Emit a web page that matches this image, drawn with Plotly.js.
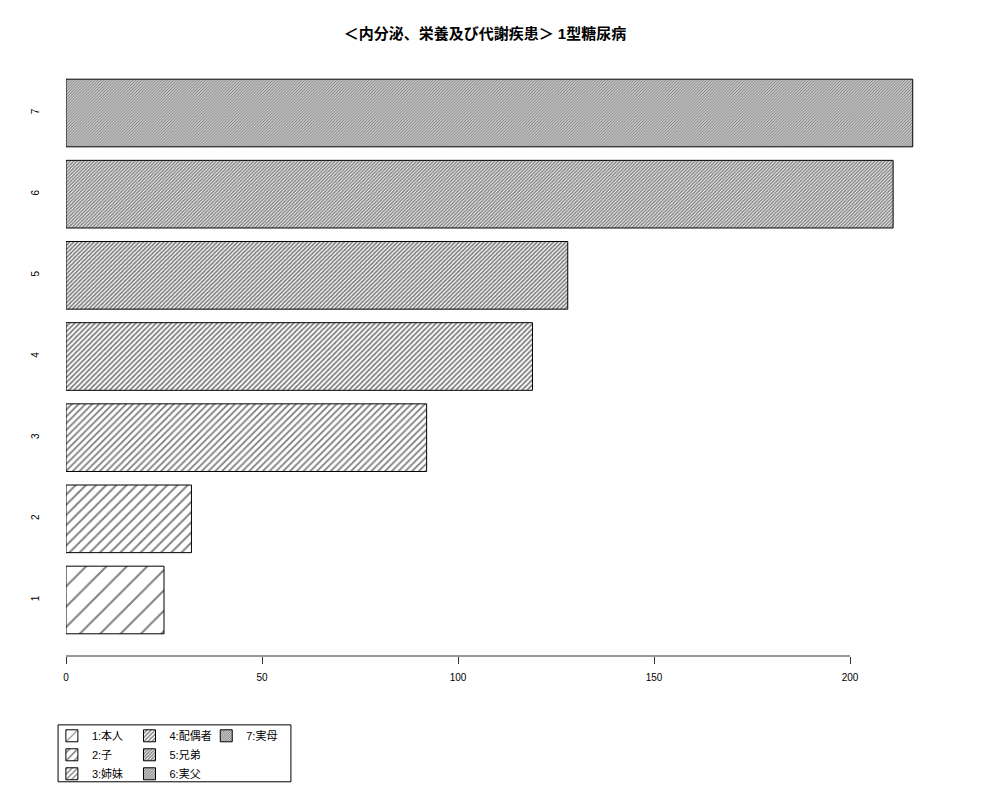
<!DOCTYPE html>
<html>
<head>
<meta charset="utf-8">
<script src="https://cdn.plot.ly/plotly-3.0.1.min.js"></script>
<style>
  body { margin: 0; background: #fff; }
  #chart { width: 1000px; height: 800px; }
</style>
</head>
<body>
<div id="chart"></div>
<script>
// data
let categories = ["1", "2", "3", "4", "5", "6", "7"];
let values = [25, 32, 92, 119, 128, 211, 216];
let legend_names = ["1:本人", "2:子", "3:姉妹", "4:配偶者", "5:兄弟", "6:実父", "7:実母"];
let x_ticks = [0, 50, 100, 150, 200];
let title_text = "＜内分泌、栄養及び代謝疾患＞ 1型糖尿病";

// hatch spacing gets tighter for each bar (R density 5, 10, ... 35)
let hatch_size = [14.4, 7.2, 4.8, 3.6, 2.9, 2.4, 2.06];
// which legend column each bar goes into
let legend_column = ["legend", "legend", "legend", "legend2", "legend2", "legend2", "legend3"];

const font_family = '"Liberation Sans", Arial, "Noto Sans CJK JP", sans-serif';

let traces = [];
for (let i = 0; i < categories.length; i++) {
    let s = hatch_size[i];
    traces.push({
        type: 'bar',
        orientation: 'h',
        x: [values[i]],
        y: [categories[i]],
        name: legend_names[i],
        legend: legend_column[i],
        marker: {
            color: 'white',
            line: {color: 'black', width: 1},
            pattern: {
                shape: '/',
                size: s,
                // about 1px wide hatch lines
                solidity: Math.min(0.6, 1 - Math.pow(1 - 1.0 / s, 2)),
                fgcolor: 'black',
                bgcolor: 'white',
                fillmode: 'overlay'
            }
        },
        hoverinfo: 'x+y'
    });
}

let legend_common = {
    orientation: 'v',
    yanchor: 'top',
    xanchor: 'left',
    y: -0.109,
    bgcolor: 'rgba(0,0,0,0)',
    borderwidth: 0,
    font: {family: font_family, size: 11, color: 'black'},
    traceorder: 'normal',
    itemwidth: 30
};

let layout = {
    width: 1000,
    height: 800,
    paper_bgcolor: 'white',
    plot_bgcolor: 'white',
    margin: {l: 66, r: 52, t: 57, b: 144},
    barmode: 'overlay',
    bargap: 0.1667,
    showlegend: true,
    title: {
        text: '<b>' + title_text + '</b>',
        x: 0.475,
        xanchor: 'center',
        xref: 'paper',
        y: 0.964,
        yref: 'container',
        font: {family: font_family, size: 15, color: 'black'}
    },
    xaxis: {
        range: [0, 225],
        tickvals: x_ticks,
        ticktext: x_ticks.map(String),
        ticks: 'outside',
        ticklen: 7,
        tickcolor: '#333',
        ticklabelstandoff: 5,
        showline: false,
        showgrid: false,
        zeroline: false,
        tickfont: {family: font_family, size: 10, color: 'black'}
    },
    yaxis: {
        type: 'category',
        categoryorder: 'array',
        categoryarray: categories,
        range: [-0.69, 6.69],
        showline: false,
        showgrid: false,
        zeroline: false,
        ticks: '',
        tickangle: -90,
        ticklabelstandoff: 24,
        tickfont: {family: font_family, size: 10, color: 'black'}
    },
    legend: Object.assign({}, legend_common, {x: -0.016}),
    legend2: Object.assign({}, legend_common, {x: 0.072}),
    legend3: Object.assign({}, legend_common, {x: 0.159}),
    shapes: [
        // axis line only spans the ticks, like R's axis()
        {type: 'line', xref: 'x', yref: 'paper', x0: x_ticks[0], x1: x_ticks[x_ticks.length - 1],
         y0: 0, y1: 0, line: {color: '#333', width: 1}},
        // legend box
        {type: 'rect', xref: 'paper', yref: 'paper', x0: -0.009, x1: 0.255, y0: -0.115, y1: -0.21,
         line: {color: 'black', width: 1}, fillcolor: 'rgba(0,0,0,0)'}
    ]
};

Plotly.newPlot('chart', traces, layout, {displayModeBar: false, staticPlot: true});
</script>
</body>
</html>
